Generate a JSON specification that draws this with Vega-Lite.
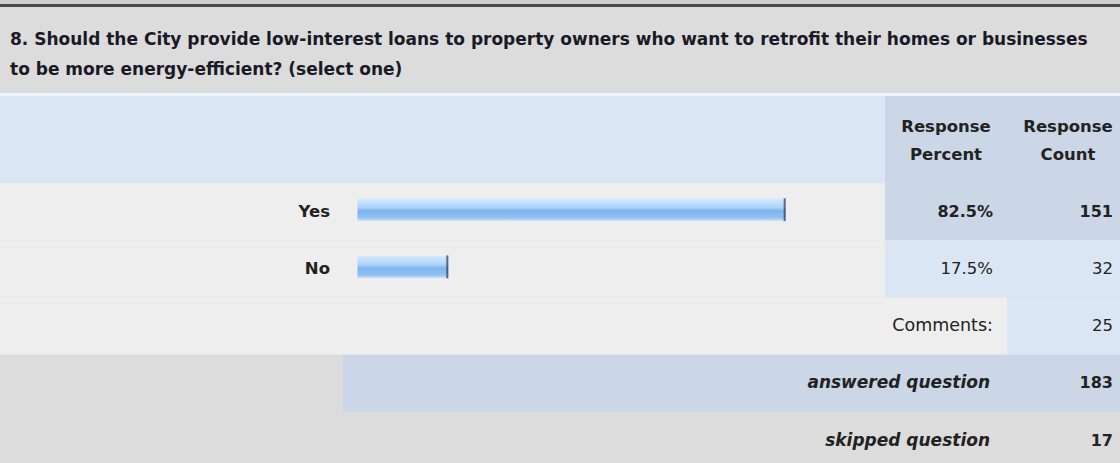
{
  "$schema": "https://vega.github.io/schema/vega-lite/v6.json",
  "padding": 0,
  "background": "#dcdcdc",
  "spacing": 0,
  "config": {
    "view": {"stroke": null},
    "text": {"font": "DejaVu Sans", "fontSize": 16, "color": "#222222", "baseline": "middle"}
  },
  "datasets": {
    "question": [
      {"line": "1", "text": "8. Should the City provide low-interest loans to property owners who want to retrofit their homes or businesses"},
      {"line": "2", "text": "to be more energy-efficient? (select one)"}
    ],
    "headers": [
      {"column": "Percent", "text": ["Response", "Percent"]},
      {"column": "Count", "text": ["Response", "Count"]}
    ],
    "answers": [
      {"row": "Yes", "label": "Yes", "percent": 0.825, "count": 151},
      {"row": "No", "label": "No", "percent": 0.175, "count": 32},
      {"row": "Comments", "label": "Comments:", "count": 25},
      {"row": "answered", "label": "answered question", "count": 183},
      {"row": "skipped", "label": "skipped question", "count": 17}
    ]
  },
  "vconcat": [
    {"width": 1120, "height": 4, "view": {"fill": "#cfcfcf", "stroke": null}, "data": {"values": []}, "mark": "rect", "encoding": {}},
    {"width": 1120, "height": 3, "view": {"fill": "#4a4a4a", "stroke": null}, "data": {"values": []}, "mark": "rect", "encoding": {}},
    {
      "width": 1120, "height": 86, "view": {"fill": "#dcdcdc", "stroke": null},
      "data": {"name": "question"},
      "mark": {"type": "text", "align": "left", "fontWeight": "bold", "fontSize": 17, "dx": 10, "color": "#1a1a26"},
      "encoding": {
        "x": {"datum": "edge", "type": "nominal", "scale": {"type": "point", "padding": 0, "align": 0}, "axis": null},
        "y": {"field": "line", "type": "nominal", "scale": {"type": "point", "padding": 0.933, "align": 0.589, "round": false}, "axis": null},
        "text": {"field": "text"}
      }
    },
    {"width": 1120, "height": 3, "view": {"fill": "#f0f3f7", "stroke": null}, "data": {"values": []}, "mark": "rect", "encoding": {}},
    {
      "spacing": 0,
      "bounds": "flush",
      "hconcat": [
        {"width": 885, "height": 87, "view": {"fill": "#dbe6f4", "stroke": null}, "data": {"values": []}, "mark": "rect", "encoding": {}},
        {
          "width": 122, "height": 87, "view": {"fill": "#cbd7e6", "stroke": null},
          "data": {"name": "headers"},
          "transform": [{"filter": "datum.column === 'Percent'"}],
          "mark": {"type": "text", "align": "center", "fontWeight": "bold", "fontSize": 16.5, "lineHeight": 28, "dy": -12.5},
          "encoding": {
            "x": {"datum": "mid", "type": "nominal", "scale": {"type": "point", "padding": 0, "align": 0.5}, "axis": null},
            "text": {"field": "text"}
          }
        },
        {
          "width": 113, "height": 87, "view": {"fill": "#cbd7e6", "stroke": null},
          "data": {"name": "headers"},
          "transform": [{"filter": "datum.column === 'Count'"}],
          "mark": {"type": "text", "align": "center", "fontWeight": "bold", "fontSize": 16.5, "lineHeight": 28, "dy": -12.5, "dx": 4.5},
          "encoding": {
            "x": {"datum": "mid", "type": "nominal", "scale": {"type": "point", "padding": 0, "align": 0.5}, "axis": null},
            "text": {"field": "text"}
          }
        }
      ]
    },
    {
      "spacing": 0,
      "bounds": "flush",
      "hconcat": [
        {
          "width": 343, "height": 229,
          "data": {"name": "answers"},
          "transform": [{"filter": "datum.row !== 'skipped'"}],
          "encoding": {
            "y": {"field": "row", "type": "nominal", "scale": {"domain": ["Yes", "No", "Comments", "answered"], "paddingInner": 0, "paddingOuter": 0, "round": false}, "axis": null}
          },
          "layer": [
            {"mark": {"type": "rect"}, "encoding": {"fill": {"condition": {"test": "datum.row === 'answered'", "value": "#dcdcdc"}, "value": "#eeeeee"}}},
            {
              "transform": [{"filter": "datum.row === 'Yes' || datum.row === 'No'"}],
              "mark": {"type": "text", "align": "right", "fontWeight": "bold", "fontSize": 16.5, "dx": -13},
              "encoding": {
                "x": {"datum": "edge", "type": "nominal", "scale": {"type": "point", "padding": 0, "align": 1}, "axis": null},
                "text": {"field": "label"}
              }
            }
          ]
        },
        {
          "width": 542, "height": 229,
          "data": {"name": "answers"},
          "transform": [{"filter": "datum.row !== 'skipped'"}],
          "encoding": {
            "y": {"field": "row", "type": "nominal", "scale": {"domain": ["Yes", "No", "Comments", "answered"], "paddingInner": 0, "paddingOuter": 0, "round": false}, "axis": null}
          },
          "layer": [
            {"mark": {"type": "rect"}, "encoding": {"fill": {"condition": {"test": "datum.row === 'answered'", "value": "#cbd7e6"}, "value": "#eeeeee"}}},
            {
              "transform": [{"filter": "isValid(datum.percent)"}],
              "mark": {
                "type": "bar", "height": 22, "yOffset": -2,
                "color": {"gradient": "linear", "x1": 0, "y1": 0, "x2": 0, "y2": 1,
                  "stops": [
                    {"offset": 0, "color": "#d6eafd"},
                    {"offset": 0.4, "color": "#aed3f9"},
                    {"offset": 0.55, "color": "#7fb5ef"},
                    {"offset": 0.85, "color": "#8ec0f3"},
                    {"offset": 1, "color": "#c4defa"}
                  ]}
              },
              "encoding": {
                "x": {"field": "percent", "type": "quantitative", "scale": {"domain": [-0.0279, 1.0164], "nice": false}, "axis": null},
                "x2": {"datum": 0}
              }
            },
            {
              "transform": [{"filter": "isValid(datum.percent)"}],
              "mark": {"type": "tick", "orient": "vertical", "color": "#2a3a58", "thickness": 2, "size": 23, "yOffset": -2, "xOffset": -1},
              "encoding": {
                "x": {"field": "percent", "type": "quantitative"}
              }
            }
          ]
        },
        {
          "width": 122, "height": 229,
          "data": {"name": "answers"},
          "transform": [{"filter": "datum.row !== 'skipped'"}],
          "encoding": {
            "y": {"field": "row", "type": "nominal", "scale": {"domain": ["Yes", "No", "Comments", "answered"], "paddingInner": 0, "paddingOuter": 0, "round": false}, "axis": null},
            "x": {"datum": "edge", "type": "nominal", "scale": {"type": "point", "padding": 0, "align": 1}, "axis": null}
          },
          "layer": [
            {"mark": {"type": "rect"}, "encoding": {"x": null, "fill": {"condition": [{"test": "datum.row === 'No'", "value": "#dbe6f4"}, {"test": "datum.row === 'Comments'", "value": "#eeeeee"}], "value": "#cbd7e6"}}},
            {
              "transform": [{"filter": "datum.row === 'Yes'"}],
              "mark": {"type": "text", "align": "right", "fontWeight": "bold", "dx": -14},
              "encoding": {"text": {"field": "percent", "format": ".1%"}}
            },
            {
              "transform": [{"filter": "datum.row === 'No'"}],
              "mark": {"type": "text", "align": "right", "fontSize": 16.5, "dx": -14},
              "encoding": {"text": {"field": "percent", "format": ".1%"}}
            },
            {
              "transform": [{"filter": "datum.row === 'Comments'"}],
              "mark": {"type": "text", "align": "right", "fontSize": 17.5, "dx": -14},
              "encoding": {"text": {"field": "label"}}
            },
            {
              "transform": [{"filter": "datum.row === 'answered'"}],
              "mark": {"type": "text", "align": "right", "fontWeight": "bold", "fontStyle": "italic", "fontSize": 17, "dx": -17},
              "encoding": {"text": {"field": "label"}}
            }
          ]
        },
        {
          "width": 113, "height": 229,
          "data": {"name": "answers"},
          "transform": [{"filter": "datum.row !== 'skipped'"}],
          "encoding": {
            "y": {"field": "row", "type": "nominal", "scale": {"domain": ["Yes", "No", "Comments", "answered"], "paddingInner": 0, "paddingOuter": 0, "round": false}, "axis": null},
            "x": {"datum": "edge", "type": "nominal", "scale": {"type": "point", "padding": 0, "align": 1}, "axis": null}
          },
          "layer": [
            {"mark": {"type": "rect"}, "encoding": {"x": null, "fill": {"condition": {"test": "datum.row === 'No' || datum.row === 'Comments'", "value": "#dbe6f4"}, "value": "#cbd7e6"}}},
            {
              "transform": [{"filter": "datum.row === 'Yes' || datum.row === 'answered'"}],
              "mark": {"type": "text", "align": "right", "fontWeight": "bold", "dx": -7},
              "encoding": {"text": {"field": "count"}}
            },
            {
              "transform": [{"filter": "datum.row === 'No' || datum.row === 'Comments'"}],
              "mark": {"type": "text", "align": "right", "fontSize": 16.5, "dx": -7},
              "encoding": {"text": {"field": "count"}}
            }
          ]
        }
      ]
    },
    {
      "spacing": 0,
      "bounds": "flush",
      "hconcat": [
        {
          "width": 1007, "height": 51, "view": {"fill": "#dcdcdc", "stroke": null},
          "data": {"name": "answers"},
          "transform": [{"filter": "datum.row === 'skipped'"}],
          "mark": {"type": "text", "align": "right", "fontWeight": "bold", "fontStyle": "italic", "fontSize": 17, "dx": -17, "dy": 3},
          "encoding": {
            "x": {"datum": "edge", "type": "nominal", "scale": {"type": "point", "padding": 0, "align": 1}, "axis": null},
            "y": {"field": "row", "type": "nominal", "scale": {"paddingInner": 0, "paddingOuter": 0, "round": false}, "axis": null},
            "text": {"field": "label"}
          }
        },
        {
          "width": 113, "height": 51, "view": {"fill": "#dcdcdc", "stroke": null},
          "data": {"name": "answers"},
          "transform": [{"filter": "datum.row === 'skipped'"}],
          "mark": {"type": "text", "align": "right", "fontWeight": "bold", "dx": -7, "dy": 3},
          "encoding": {
            "x": {"datum": "edge", "type": "nominal", "scale": {"type": "point", "padding": 0, "align": 1}, "axis": null},
            "y": {"field": "row", "type": "nominal", "scale": {"paddingInner": 0, "paddingOuter": 0, "round": false}, "axis": null},
            "text": {"field": "count"}
          }
        }
      ]
    }
  ]
}
